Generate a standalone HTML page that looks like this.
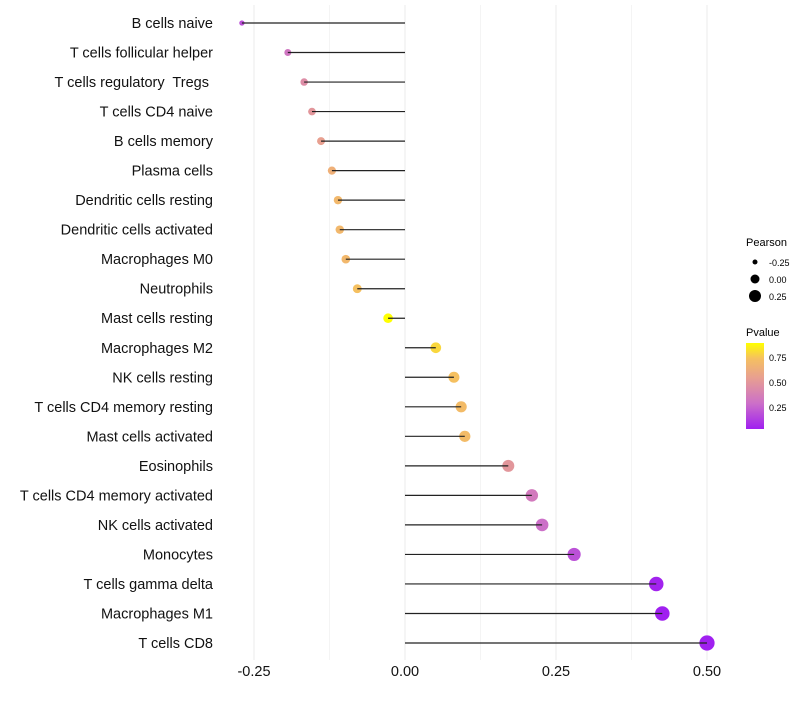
<!DOCTYPE html>
<html><head><meta charset="utf-8"><style>
body{margin:0;background:#fff;font-family:"Liberation Sans",sans-serif;}
text{white-space:pre;}
</style></head><body>
<svg id="chart" width="800" height="700">
<defs><linearGradient id="pg" x1="0" y1="1" x2="0" y2="0">
<stop offset="0" stop-color="#a020f0"/><stop offset="0.3" stop-color="#cc70c8"/>
<stop offset="0.6" stop-color="#e8a090"/><stop offset="0.82" stop-color="#f5c060"/><stop offset="1" stop-color="#ffff00"/>
</linearGradient></defs>
<g id="grid"></g><g id="marks"></g><g id="labels"></g>
<g font-size="11" fill="#000">
<text x="746" y="246">Pearson</text>
<circle cx="755" cy="262" r="2.5"/><text x="769" y="266" font-size="9">-0.25</text>
<circle cx="755" cy="279" r="4.5"/><text x="769" y="283" font-size="9">0.00</text>
<circle cx="755" cy="296" r="6"/><text x="769" y="300" font-size="9">0.25</text>
<text x="746" y="336">Pvalue</text>
<rect x="746" y="343" width="18" height="86" fill="url(#pg)"/>
<text x="769" y="361" font-size="9">0.75</text>
<text x="769" y="386" font-size="9">0.50</text>
<text x="769" y="411" font-size="9">0.25</text>
</g>
</svg>
<script>
const categories=["B cells naive","T cells follicular helper","T cells regulatory  Tregs ","T cells CD4 naive","B cells memory","Plasma cells","Dendritic cells resting","Dendritic cells activated","Macrophages M0","Neutrophils","Mast cells resting","Macrophages M2","NK cells resting","T cells CD4 memory resting","Mast cells activated","Eosinophils","T cells CD4 memory activated","NK cells activated","Monocytes","T cells gamma delta","Macrophages M1","T cells CD8"];
const pearson=[-0.27,-0.194,-0.167,-0.154,-0.139,-0.121,-0.111,-0.108,-0.098,-0.079,-0.028,0.051,0.081,0.093,0.099,0.171,0.21,0.227,0.28,0.416,0.426,0.50];
const pvalue=[0.2,0.33,0.45,0.5,0.55,0.65,0.7,0.7,0.7,0.75,0.9,0.8,0.75,0.72,0.72,0.5,0.35,0.3,0.2,0.05,0.04,0.02];
const ticks=[-0.25,0,0.25,0.5];
const tickLabels=["-0.25","0.00","0.25","0.50"];
const NS="http://www.w3.org/2000/svg";
const xs=v=>405+v*604;
const ys=i=>23+i*(620/21);
const stops=[[0.04,[160,32,240]],[0.3,[204,112,200]],[0.55,[232,160,144]],[0.75,[245,192,96]],[0.89,[255,255,0]]];
function col(p){if(p<=stops[0][0])return "rgb("+stops[0][1]+")";for(let k=1;k<stops.length;k++){if(p<=stops[k][0]){const a=stops[k-1],b=stops[k],t=(p-a[0])/(b[0]-a[0]);return "rgb("+a[1].map((c,j)=>Math.round(c+(b[1][j]-c)*t))+")";}}return "rgb("+stops[stops.length-1][1]+")";}
function mk(t,a,parent){const e=document.createElementNS(NS,t);for(const k in a)e.setAttribute(k,a[k]);parent.appendChild(e);return e;}
const grid=document.getElementById('grid'),marks=document.getElementById('marks'),labels=document.getElementById('labels');
[-0.125,0.125,0.375].forEach(v=>{const l=mk('line',{x1:xs(v),x2:xs(v),y1:5,y2:660,stroke:'#f4f4f4','stroke-width':1},grid);

});
ticks.forEach((v,i)=>{const l=mk('line',{x1:xs(v),x2:xs(v),y1:5,y2:660,stroke:'#ebebeb','stroke-width':1},grid);


const t=mk('text',{x:xs(v),y:676,'text-anchor':'middle','font-size':14.5,fill:'#111'},labels);t.textContent=tickLabels[i];

});
categories.forEach((c,i)=>{const y=ys(i),v=pearson[i];
const t=mk('text',{x:213,y:y+5,'text-anchor':'end','font-size':14.5,fill:'#111'},labels);t.textContent=c;


const r=Math.sqrt(Math.max(4,25+66*v));
const d=mk('circle',{cx:xs(v),cy:y,r:r,fill:col(pvalue[i])},marks);


const l=mk('line',{x1:xs(0),x2:xs(v),y1:y,y2:y,stroke:'#222','stroke-width':1.2},marks);

});
</script>
</body></html>
